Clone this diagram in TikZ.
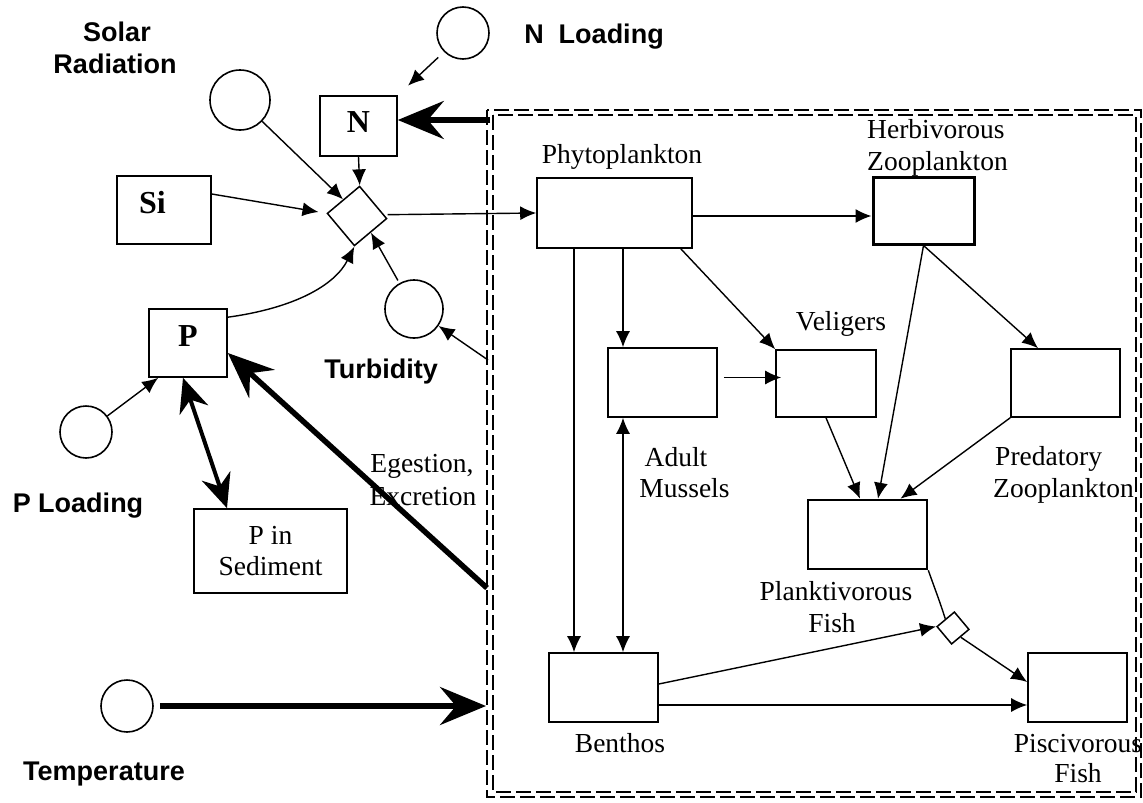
\documentclass[tikz,border=0pt]{standalone}
\usepackage{fontspec}
\setmainfont{Liberation Serif}
\setsansfont{Liberation Sans}
\usetikzlibrary{arrows.meta}
\begin{document}
\begin{tikzpicture}[x=1pt,y=-1pt,
  bx/.style={draw, rectangle, line width=1.6pt, inner sep=0pt},
  circ/.style={draw, circle, line width=1.6pt, inner sep=0pt},
  dia/.style={draw, rectangle, rotate=40, line width=1.5pt, inner sep=0pt},
  lbl/.style={font=\fontsize{27}{32}\selectfont\sffamily\bfseries, inner sep=0pt, anchor=base},
  tl/.style={font=\fontsize{27.5}{31}\selectfont, inner sep=0pt, anchor=base},
  big/.style={font=\fontsize{32}{36}\selectfont\bfseries},
  arr/.style={line width=1.4pt, -{Latex[length=16pt,width=14pt]}},
  thk/.style={line width=5.5pt, -{Stealth[length=46pt,width=38pt,inset=16pt]}},
  dbl/.style={line width=4pt, {Stealth[length=34pt,width=30pt,inset=11pt]}-{Stealth[length=34pt,width=30pt,inset=11pt]}},
  thindbl/.style={line width=1.4pt, {Latex[length=16pt,width=14pt]}-{Latex[length=16pt,width=14pt]}},
  plain/.style={line width=1.4pt},
  dsh/.style={line width=2pt, dash pattern=on 15pt off 5pt}
]
\useasboundingbox (0,0) rectangle (1143,803);

% dashed double frame
\draw[dsh] (487,110) rectangle (1141,797);
\draw[dsh] (493,115) rectangle (1136,792);
\coordinate (cN) at (490,120);
\coordinate (cT) at (488,360);
\coordinate (cE) at (487,588);
\coordinate (cTemp) at (486,706);

% circles
\node[circ, minimum size=60pt] (Solar) at (240,100) {};
\node[circ, minimum size=52pt] (NL) at (463,33) {};
\node[circ, minimum size=58pt] (Turb) at (414,309) {};
\node[circ, minimum size=52pt] (PL) at (86,432) {};
\node[circ, minimum size=52pt] (Temp) at (127,706) {};

% outside labels
\node[lbl] (lSolar) at (117,41) {Solar};
\node[lbl] (lRad) at (115,73) {Radiation};
\node[lbl] (lNL) at (594,43) {N\ \ Loading};
\node[lbl] (lTurb) at (381,378) {Turbidity};
\node[lbl] (lPL) at (78,512) {P Loading};
\node[lbl] (lTemp) at (104,780) {Temperature};

% outside boxes
\node[bx, big, text depth=7pt, minimum width=77pt, minimum height=60pt] (N) at (358.5,126) {N};
\node[bx, big, text depth=15pt, minimum width=94pt, minimum height=68pt] (Si) at (164,210) {Si\hspace*{23pt}};
\node[bx, big, text depth=14pt, minimum width=78pt, minimum height=68pt] (P) at (188,343) {P};
\node[bx, align=center, font=\fontsize{27.5}{31}\selectfont, minimum width=153pt, minimum height=84pt] (Sed) at (270.5,551) {P in\\Sediment};

% diamonds
\node[dia, minimum width=42pt, minimum height=42pt] (D1) at (357,216) {};
\node[dia, minimum width=22.6pt, minimum height=22.6pt] (D2) at (953,628) {};

% inner boxes
\node[bx, minimum width=155pt, minimum height=70pt] (Phyto) at (614.5,213) {};
\node[bx, line width=3pt, minimum width=101pt, minimum height=67pt] (Herb) at (923.5,210.5) {};
\node[bx, minimum width=109pt, minimum height=69pt] (Mus) at (662.5,382.5) {};
\node[bx, minimum width=100pt, minimum height=67pt] (Vel) at (826,383.5) {};
\node[bx, minimum width=109pt, minimum height=68pt] (Pred) at (1065.5,383) {};
\node[bx, line width=2.6pt, minimum width=119pt, minimum height=69pt] (Plank) at (867.5,534.5) {};
\node[bx, minimum width=109pt, minimum height=69pt] (Ben) at (603.5,687.5) {};
\node[bx, minimum width=99pt, minimum height=69pt] (Pisc) at (1077.5,687.5) {};

% inner labels
\node[tl] (lPhyto) at (622,163) {Phytoplankton};
\node[tl, anchor=base west] (lHerb1) at (867,138) {Herbivorous};
\node[tl, anchor=base west] (lHerb2) at (867,170) {Zooplankton};
\node[tl] (lVel) at (841,330) {Veligers};
\node[tl] (lMus1) at (676,466) {Adult};
\node[tl] (lMus2) at (684.5,497) {Mussels};
\node[tl, anchor=base west] (lPred1) at (995,465) {Predatory};
\node[tl, anchor=base west] (lPred2) at (993,497) {Zooplankton};
\node[tl] (lPlank1) at (836,600) {Planktivorous};
\node[tl] (lPlank2) at (832,632) {Fish};
\node[tl] (lBen) at (620,752) {Benthos};
\node[tl] (lPisc1) at (1078,752) {Piscivorous};
\node[tl] (lPisc2) at (1078,782) {Fish};
\node[tl] (lEg1) at (422,472) {Egestion,};
\node[tl] (lEg2) at (423,505) {Excretion};

% outside connectors
\draw[arr, shorten <=8pt, shorten >=14pt] (NL.south west) -- (N.north east);
\draw[thk] (cN) -- (N.east |- cN);
\draw[arr] (N.south) -- (D1.north east);
\draw[arr] (Solar) -- (D1.north);
\draw[arr, shorten >=8pt] ([yshift=16pt]Si.east) -- (D1.north west);
\draw[arr] ([yshift=-9pt]P.north east) .. controls (295,308) and (335,285) .. (D1.south west);
\draw[arr, shorten <=3pt] (Turb) -- (D1.south);
\draw[arr] ([yshift=4pt]D1.south east) -- (Phyto.west);
\draw[arr] (cT) -- (Turb);
\draw[arr] (PL) -- ([xshift=10pt]P.south west);
\draw[thk] (cE) -- ([yshift=-10pt]P.east);
\draw[dbl] ([xshift=-5pt]P.south) -- ([xshift=-43.5pt]Sed.north);
\draw[thk, shorten <=6pt] (Temp) -- (cTemp);

% inner connectors
\draw[arr] ([yshift=-3pt]Phyto.east) -- ([yshift=-3pt]Phyto.east -| Herb.west);
\draw[arr] ([xshift=-40.5pt]Phyto.south) -- ([xshift=-40.5pt]Phyto.south |- Ben.north);
\draw[arr] ([xshift=8.5pt]Phyto.south) -- ([xshift=8.5pt]Phyto.south |- Mus.north);
\draw[arr] ([xshift=-12pt]Phyto.south east) -- (Vel.north west);
\draw[arr] ([xshift=6pt,yshift=5pt]Mus.east) -- ([xshift=6pt,yshift=5pt]Mus.east -| Vel.west);
\draw[thindbl] ([xshift=-39.5pt]Mus.south) -- ([xshift=-39.5pt]Mus.south |- Ben.north);
\draw[arr] (Herb.south) -- ([xshift=10.5pt]Plank.north);
\draw[arr] (Herb.south) -- ([xshift=-27.5pt]Pred.north);
\draw[arr] (Vel.south) -- ([xshift=-7.5pt]Plank.north);
\draw[arr] (Pred.south west) -- ([xshift=33pt]Plank.north);
\draw[plain] (Plank.south east) .. controls (936,592) and (940,602) .. (D2.north);
\draw[arr] ([yshift=3.5pt]Ben.east) -- (D2.north west);
\draw[arr] (D2.south) -- ([yshift=5.5pt]Pisc.west);
\draw[arr] ([yshift=-17.5pt]Ben.east) -- ([yshift=-17.5pt]Ben.east -| Pisc.west);
\end{tikzpicture}
\end{document}
